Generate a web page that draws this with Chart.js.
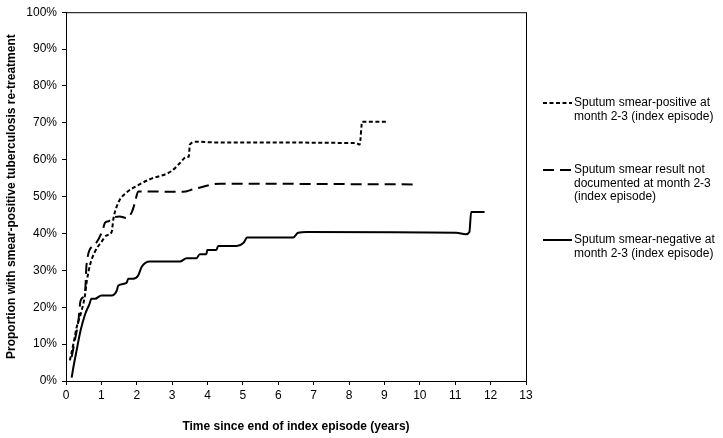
<!DOCTYPE html>
<html>
<head>
<meta charset="utf-8">
<script src="https://cdn.jsdelivr.net/npm/chart.js@4/dist/chart.umd.min.js"></script>
<style>
  html, body { margin: 0; padding: 0; background: #fff; }
  #wrap { width: 723px; height: 438px; position: relative; }
</style>
</head>
<body>
<div id="wrap"><canvas id="chart"></canvas></div>
<script>
// Years since end of index episode / cumulative proportion (%)
const positiveYears = [0.11, 0.21, 0.3, 0.44, 0.54, 0.58, 0.68, 0.82, 1.0, 1.15, 1.29, 1.34, 1.48, 1.71, 2.0, 2.37, 2.98, 3.22, 3.41, 3.47, 3.5, 3.69, 4.16, 8.2, 8.3, 8.37, 9.1];
const positiveValues = [5.6, 10.1, 14.5, 19.0, 23.5, 26.6, 31.5, 35.1, 37.7, 39.5, 40.4, 44.0, 48.4, 51.1, 52.9, 54.7, 56.9, 59.1, 60.8, 60.8, 64.1, 64.9, 64.7, 64.5, 64.1, 70.3, 70.3];

const notDocYears = [0.16, 0.25, 0.35, 0.41, 0.54, 0.58, 0.77, 0.87, 1.05, 1.1, 1.2, 1.32, 1.52, 1.71, 1.86, 1.95, 2.04, 3.31, 3.6, 4.35, 9.9];
const notDocValues = [6.5, 11.0, 16.3, 21.7, 24.4, 31.5, 36.8, 37.7, 41.3, 42.9, 43.3, 44.2, 44.6, 44.2, 45.8, 48.4, 51.4, 51.3, 52.0, 53.5, 53.3];

const negativeYears = [0.16, 0.21, 0.3, 0.41, 0.54, 0.66, 0.72, 0.82, 1.0, 1.29, 1.43, 1.48, 1.71, 1.76, 1.9, 2.04, 2.14, 2.37, 3.22, 3.41, 3.69, 3.78, 3.97, 3.99, 4.25, 4.3, 4.82, 5.02, 5.12, 6.42, 6.56, 6.8, 11.03, 11.3, 11.4, 11.45, 11.83];
const negativeValues = [0.9, 3.8, 8.3, 13.6, 18.1, 20.8, 22.3, 22.3, 23.2, 23.2, 24.4, 25.9, 26.6, 27.7, 27.7, 28.6, 31.0, 32.4, 32.4, 33.3, 33.3, 34.4, 34.4, 35.5, 35.5, 36.6, 36.6, 37.5, 38.9, 38.9, 40.2, 40.4, 40.2, 39.8, 40.4, 45.8, 45.8];

const legendLabels = [
  ["Sputum smear-positive at", "month 2-3 (index episode)"],
  ["Sputum smear result not", "documented at month 2-3", "(index episode)"],
  ["Sputum smear-negative at", "month 2-3 (index episode)"],
];

const toPoints = (xs, ys) => xs.map((x, i) => ({ x: x, y: ys[i] }));
const FONT = "'Liberation Sans', Arial, sans-serif";

const frameAndLegendPlugin = {
  id: "frameAndLegend",
  afterDraw(chart) {
    const ctx = chart.ctx;
    const area = chart.chartArea;
    ctx.save();
    ctx.strokeStyle = "#000";
    ctx.lineWidth = 1;
    ctx.strokeRect(area.left + 0.5, area.top + 0.5, area.right - area.left, area.bottom - area.top);

    const legendTop = [103, 170, 240];
    const dashes = [[4, 2.5], [11, 6], []];
    ctx.font = "12px " + FONT;
    ctx.fillStyle = "#000";
    ctx.textBaseline = "middle";
    legendLabels.forEach((lines, i) => {
      const y = legendTop[i];
      ctx.beginPath();
      ctx.setLineDash(dashes[i]);
      ctx.lineWidth = 2;
      ctx.moveTo(543, y);
      ctx.lineTo(572, y);
      ctx.stroke();
      ctx.setLineDash([]);
      lines.forEach((text, j) => {
        ctx.fillText(text, 574, y + j * 13.3);
      });
    });
    ctx.restore();
  },
};

new Chart(document.getElementById("chart"), {
  type: "line",
  data: {
    datasets: [
      {
        label: "Sputum smear-positive at month 2-3 (index episode)",
        data: toPoints(positiveYears, positiveValues),
        borderColor: "#000",
        borderWidth: 2,
        borderDash: [4, 2.5],
        pointRadius: 0,
        cubicInterpolationMode: "monotone",
      },
      {
        label: "Sputum smear result not documented at month 2-3 (index episode)",
        data: toPoints(notDocYears, notDocValues),
        borderColor: "#000",
        borderWidth: 2,
        borderDash: [11, 6],
        pointRadius: 0,
        cubicInterpolationMode: "monotone",
      },
      {
        label: "Sputum smear-negative at month 2-3 (index episode)",
        data: toPoints(negativeYears, negativeValues),
        borderColor: "#000",
        borderWidth: 2,
        pointRadius: 0,
        cubicInterpolationMode: "monotone",
      },
    ],
  },
  plugins: [frameAndLegendPlugin],
  options: {
    responsive: true,
    maintainAspectRatio: false,
    animation: false,
    layout: { padding: { left: 0, right: 197, top: 7, bottom: 0 } },
    plugins: {
      legend: { display: false },
      tooltip: { enabled: false },
    },
    scales: {
      x: {
        type: "linear",
        min: 0,
        max: 13,
        afterFit(scale) { scale.height = 57; },
        ticks: { stepSize: 1, color: "#000", padding: 3, font: { family: FONT, size: 12 } },
        grid: { drawOnChartArea: false, tickLength: 4, color: "#000" },
        border: { color: "#000" },
        title: {
          display: true,
          text: "Time since end of index episode (years)",
          color: "#000",
          font: { family: FONT, size: 12, weight: "bold" },
          padding: { top: 4, bottom: 4 },
        },
      },
      y: {
        min: 0,
        max: 100,
        afterFit(scale) { scale.width = 66; },
        ticks: {
          stepSize: 10,
          color: "#000",
          padding: 5,
          font: { family: FONT, size: 12 },
          callback: (value) => value + "%",
        },
        grid: { drawOnChartArea: false, tickLength: 4, color: "#000" },
        border: { color: "#000" },
        title: {
          display: true,
          text: "Proportion with smear-positive tuberculosis re-treatment",
          color: "#000",
          font: { family: FONT, size: 12, weight: "bold" },
          padding: { top: 4, bottom: 4 },
        },
      },
    },
  },
});
</script>
</body>
</html>
